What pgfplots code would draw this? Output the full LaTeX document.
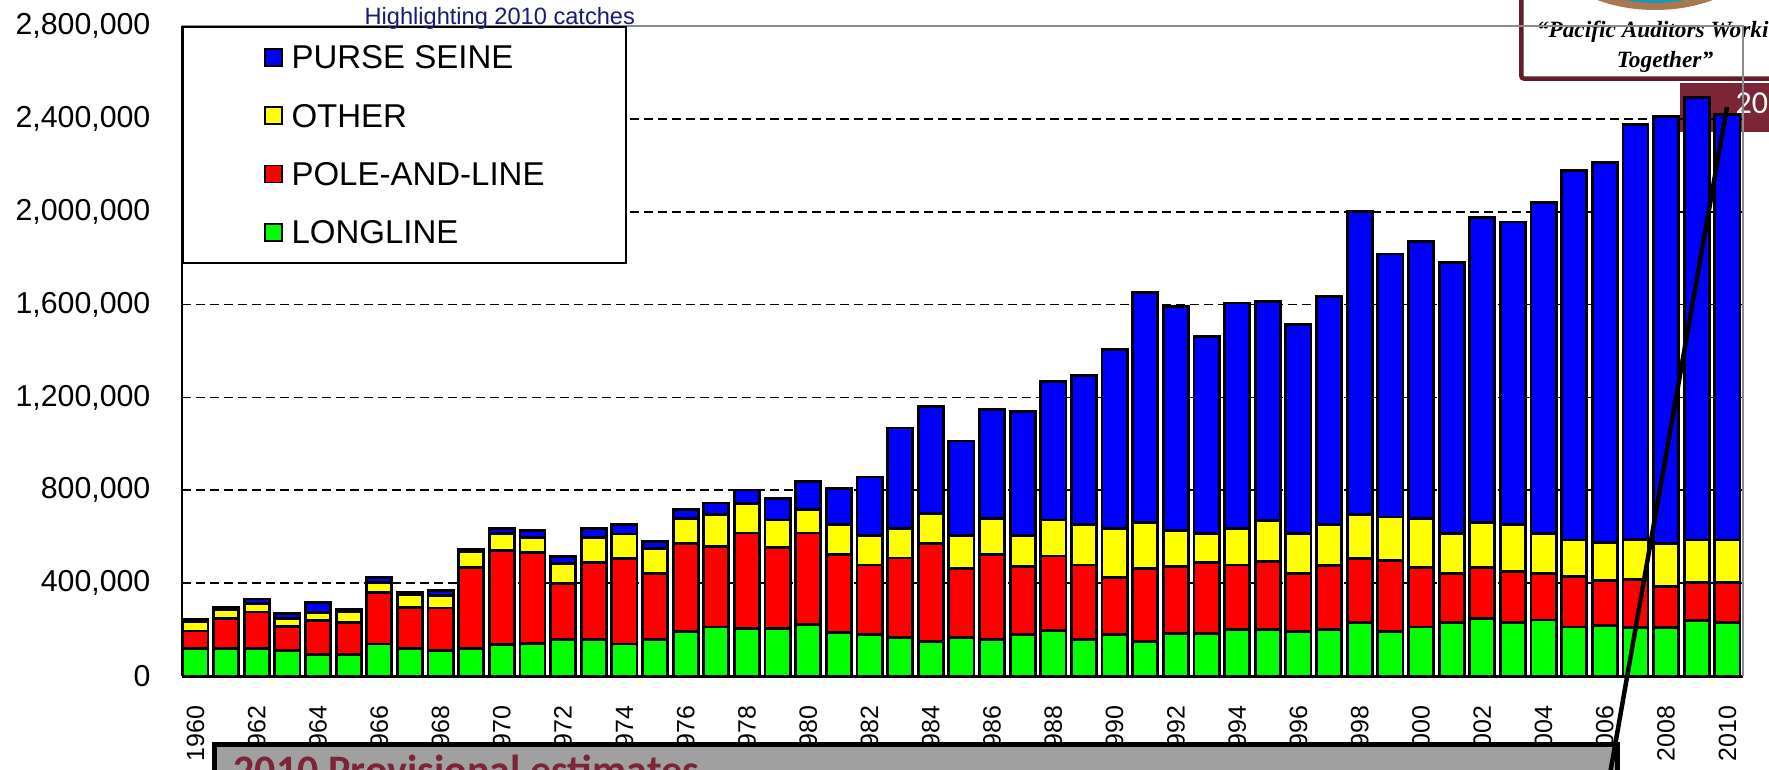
\documentclass[border=0pt]{standalone}
\usepackage{pgfplots}
\pgfplotsset{compat=1.18}
\usepackage{pgfplotstable}
\usepackage{fontspec}
\setmainfont{Liberation Sans}
\newfontfamily\carlito{Carlito}
\newfontfamily\lserif{Liberation Serif}
\definecolor{psblue}{RGB}{0,0,255}
\definecolor{otyellow}{RGB}{255,255,0}
\definecolor{plred}{RGB}{255,0,0}
\definecolor{llgreen}{RGB}{0,255,0}
\definecolor{maroonA}{RGB}{98,30,42}
\definecolor{maroonB}{RGB}{124,37,54}
\definecolor{navytxt}{RGB}{25,25,120}
\definecolor{boxgray}{RGB}{160,160,160}
\definecolor{framegray}{RGB}{140,140,140}
\definecolor{globeteal}{RGB}{30,150,175}
\definecolor{globebrown}{RGB}{170,120,80}

\pgfplotstableread{
year ll pl ot ps
1960 117000 77000 41000 7000
1961 118000 130000 37000 10000
1962 118000 158000 36000 20000
1963 111000 102000 33000 25000
1964 92000 147000 36000 40000
1965 92000 140000 46000 10000
1966 138000 223000 42000 23000
1967 118000 176000 57000 9000
1968 111000 182000 54000 23000
1969 118000 351000 66000 9000
1970 137000 405000 72000 23000
1971 139000 393000 65000 28000
1972 158000 239000 89000 30000
1973 158000 330000 109000 38000
1974 138000 367000 107000 40000
1975 158000 285000 106000 30000
1976 192000 377000 109000 40000
1977 211000 348000 137000 49000
1978 203000 413000 126000 59000
1979 204000 350000 118000 93000
1980 222000 394000 101000 121000
1981 187000 338000 129000 155000
1982 177000 301000 129000 250000
1983 167000 341000 128000 432000
1984 149000 422000 128000 461000
1985 167000 295000 145000 405000
1986 158000 367000 154000 470000
1987 177000 294000 136000 534000
1988 195000 322000 155000 598000
1989 158000 320000 176000 642000
1990 177000 249000 210000 770000
1991 149000 313000 201000 988000
1992 184000 287000 155000 964000
1993 184000 305000 125000 847000
1994 200000 278000 156000 973000
1995 200000 295000 174000 946000
1996 190000 251000 174000 900000
1997 200000 275000 177000 981000
1998 229000 277000 191000 1305000
1999 190000 306000 189000 1133000
2000 211000 256000 211000 1195000
2001 229000 213000 173000 1168000
2002 246000 222000 192000 1315000
2003 229000 220000 204000 1303000
2004 241000 201000 173000 1423000
2005 211000 219000 156000 1590000
2006 219000 194000 163000 1636000
2007 209000 207000 171000 1788000
2008 209000 177000 183000 1841000
2009 238000 166000 182000 1907000
2010 229000 175000 182000 1833000
}\catches

\pgfplotsset{legimg/.style={legend image code/.code={\draw[##1, line width=0.54pt] (0pt,-2.55pt) rectangle (5.1pt,2.55pt);}}}

\begin{document}
\begin{tikzpicture}[x=0.3pt,y=0.3pt]
\path[use as bounding box] (0,0) rectangle (1769,769);
% logo box (top right)
\draw[maroonA, line width=1.35pt, fill=white, rounded corners=0.9pt] (1521.25,690.25) rectangle (1860,830);
\fill[globebrown] (1655,821) ellipse [x radius=31.8pt, y radius=18.6pt];
\fill[globeteal] (1655,824) ellipse [x radius=28.5pt, y radius=17.4pt];
\node[font=\lserif\bfseries\itshape\fontsize{7}{9}\selectfont, align=center, anchor=center] at (1665,722) {\textquotedblleft Pacific Auditors Working\\Together\textquotedblright};
% slide number tab
\fill[maroonB] (1680,637) rectangle (1780,686);
\node[anchor=west, inner sep=0pt, text=white, font=\carlito\fontsize{9.6}{11}\selectfont] at (1735,666) {20};

\begin{axis}[
  at={(54.51pt,27.9pt)}, anchor=south west,
  scale only axis, width=468.3pt, height=195pt,
  xmin=1959.55, xmax=2010.5, ymin=0, ymax=2800000,
  ybar stacked, bar width=0.82,
  clip=false,
  axis line style={draw=none},
  xtick={1960,1962,1964,1966,1968,1970,1972,1974,1976,1978,1980,1982,1984,1986,1988,1990,1992,1994,1996,1998,2000,2002,2004,2006,2008,2010},
  ytick={0,400000,800000,1200000,1600000,2000000,2400000,2800000},
  minor ytick={400000,800000,1200000,1600000,2000000,2400000},
  yminorgrids=true,
  minor grid style={black, line width=0.5pt, dash pattern=on 2.7pt off 1.5pt},
  major tick length=0pt, minor tick length=0pt,
  scaled y ticks=false,
  /pgf/number format/assume math mode=true,
  yticklabel style={font=\fontsize{9.09}{11}\selectfont, anchor=east, inner sep=0pt, xshift=-9.2pt, /pgf/number format/fixed, /pgf/number format/1000 sep={,}},
  xticklabel style={font=\fontsize{7.5}{9}\selectfont, rotate=90, anchor=east, inner sep=0pt, /pgf/number format/1000 sep={}},
  xticklabel shift=8.7pt,
  legend style={at={(rel axis cs:0,1)}, anchor=north west, draw=black, line width=0.6pt, fill=white,
    font=\fontsize{9.9}{12}\selectfont, inner xsep=24.3pt, inner ysep=5.6pt, row sep=10.6pt, column sep=2.7pt,
    nodes={inner sep=0pt, text depth=0pt}},
  legend cell align=left,
  reverse legend,
]
\addplot[fill=llgreen, draw=black, line width=0.85pt, legimg] table[x=year, y=ll]{\catches};
\addlegendentry{LONGLINE}
\addplot[fill=plred, draw=black, line width=0.85pt, legimg] table[x=year, y=pl]{\catches};
\addlegendentry{POLE-AND-LINE}
\addplot[fill=otyellow, draw=black, line width=0.85pt, legimg] table[x=year, y=ot]{\catches};
\addlegendentry{OTHER}
\addplot[fill=psblue, draw=black, line width=0.85pt, legimg] table[x=year, y=ps]{\catches};
\addlegendentry{PURSE SEINE}
\draw[framegray, line width=0.48pt] (rel axis cs:0,1) -- (rel axis cs:1,1) -- (rel axis cs:1,0);
\draw[black, line width=0.6pt] (rel axis cs:0,0) -- (rel axis cs:0,1);
\draw[black, line width=0.9pt] (rel axis cs:0,0) -- (rel axis cs:1,0);
\end{axis}

\node[anchor=base west, inner sep=0pt, text=navytxt, font=\fontsize{7.08}{8.5}\selectfont] at (364,744) {Highlighting 2010 catches};
% bottom callout box
\draw[black, line width=1.5pt, fill=boxgray] (214.5,-60) rectangle (1617.5,24.5);
\node[anchor=base west, inner sep=0pt, text=maroonB, font=\carlito\bfseries\fontsize{12.6}{15}\selectfont] at (233,-15) {2010 Provisional estimates};
% pointer line
\draw[black, line width=1.35pt] (1727,662) -- (1610,-5);
\end{tikzpicture}
\end{document}
